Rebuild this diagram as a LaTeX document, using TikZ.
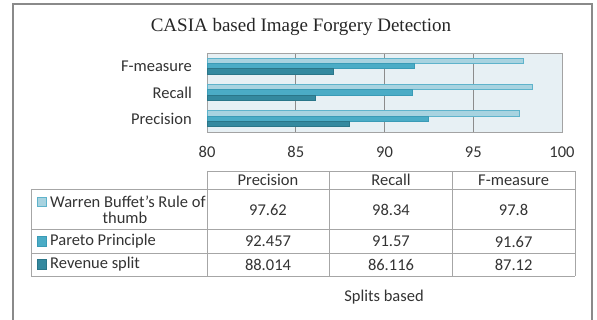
\documentclass[tikz,border=0pt]{standalone}
\usepackage{fontspec}
\setmainfont{Carlito}
\newfontfamily\titlefont{Liberation Serif}
\definecolor{lightbar}{HTML}{A8D3E0}
\definecolor{lightedge}{HTML}{5FB3CB}
\definecolor{midbar}{HTML}{4BACC6}
\definecolor{midedge}{HTML}{3A9BB6}
\definecolor{darkbar}{HTML}{34899F}
\definecolor{darkedge}{HTML}{2A7689}
\definecolor{plotbg}{HTML}{E7F0F4}
\definecolor{gridc}{HTML}{8C8C8C}
\definecolor{tablec}{HTML}{A6A6A6}
\definecolor{framec}{HTML}{8A8A8A}
\tikzset{
  lbl/.style={font=\fontsize{16.5}{18}\selectfont, inner sep=0pt, text=black!80},
  barL/.style={fill=lightbar, draw=lightedge, line width=0.6pt},
  barM/.style={fill=midbar, draw=midedge, line width=0.6pt},
  barD/.style={fill=darkbar, draw=darkedge, line width=0.6pt},
  tline/.style={draw=tablec, line width=0.8pt},
}
\begin{document}
\begin{tikzpicture}[x=1pt,y=-1pt]
\useasboundingbox (0,0) rectangle (597,320);
\clip (0,0) rectangle (597,320);
% outer frame
\draw[framec, line width=1.4pt] (13,4) rectangle (592,340);
% title
\node[font=\titlefont\fontsize{19}{21}\selectfont, inner sep=0pt, text=black!85] (title) at (301,27) {CASIA based Image Forgery Detection};
% plot area
\fill[plotbg] (207,53) rectangle (562,132);
\foreach \v in {85,90,95} {
  \draw[gridc, line width=0.7pt] ({207+(\v-80)*17.75},53) -- ({207+(\v-80)*17.75},132);
}
\draw[gridc!80, line width=0.7pt] (207,53) rectangle (562,132);
% F-measure
\draw[barL] (207,58.2) rectangle ({207+(97.8-80)*17.75},63.5);
\draw[barM] (207,63.5) rectangle ({207+(91.67-80)*17.75},68.8);
\draw[barD] (207,68.8) rectangle ({207+(87.12-80)*17.75},74.2);
% Recall
\draw[barL] (207,84.5) rectangle ({207+(98.34-80)*17.75},89.8);
\draw[barM] (207,89.8) rectangle ({207+(91.57-80)*17.75},95.1);
\draw[barD] (207,95.1) rectangle ({207+(86.116-80)*17.75},100.5);
% Precision
\draw[barL] (207,110.8) rectangle ({207+(97.62-80)*17.75},116.1);
\draw[barM] (207,116.1) rectangle ({207+(92.457-80)*17.75},121.4);
\draw[barD] (207,121.4) rectangle ({207+(88.014-80)*17.75},126.8);
% category labels
\node[lbl, anchor=east] (cF) at (192,66) {F-measure};
\node[lbl, anchor=east] (cR) at (192,93) {Recall};
\node[lbl, anchor=east] (cP) at (192,119) {Precision};
% axis numbers
\node[lbl] (a80) at (207,152) {80};
\node[lbl] (a85) at (295.75,152) {85};
\node[lbl] (a90) at (384.5,152) {90};
\node[lbl] (a95) at (473.25,152) {95};
\node[lbl] (a100) at (562,152) {100};
% table lines
\draw[tline] (207,171) -- (575,171);
\draw[tline] (31,189) -- (575,189);
\draw[tline] (31,229) -- (575,229);
\draw[tline] (31,253.5) -- (575,253.5);
\draw[tline] (31,276) -- (575,276);
\draw[tline] (31,189) -- (31,276);
\draw[tline] (207,171) -- (207,276);
\draw[tline] (329.3,171) -- (329.3,276);
\draw[tline] (452.3,171) -- (452.3,276);
\draw[tline] (575,171) -- (575,276);
% header
\node[lbl] (hP) at (268,180) {Precision};
\node[lbl] (hR) at (391,180) {Recall};
\node[lbl] (hF) at (513.6,180) {F-measure};
% legend keys
\draw[fill=lightbar, draw=lightedge, line width=0.6pt] (37,197) rectangle (46.5,206.5) coordinate (k1);
\draw[fill=midbar, draw=midedge, line width=0.6pt] (37,236.5) rectangle (46.5,246) coordinate (k2);
\draw[fill=darkbar, draw=darkedge, line width=0.6pt] (37,259.5) rectangle (46.5,269) coordinate (k3);
% row labels
\node[lbl, anchor=west] (r1a) at (50,201.5) {Warren Buffet’s Rule of};
\node[lbl] (r1b) at (125,217.5) {thumb};
\node[lbl, anchor=west] (r2) at (50,241.5) {Pareto Principle};
\node[lbl, anchor=west] (r3) at (50,264.5) {Revenue split};
% values
\node[lbl] (v11) at (268,209.5) {97.62};
\node[lbl] (v12) at (391,209.5) {98.34};
\node[lbl] (v13) at (513.6,209.5) {97.8};
\node[lbl] (v21) at (268,241.5) {92.457};
\node[lbl] (v22) at (391,241.5) {91.57};
\node[lbl] (v23) at (513.6,241.5) {91.67};
\node[lbl] (v31) at (268,264.5) {88.014};
\node[lbl] (v32) at (391,264.5) {86.116};
\node[lbl] (v33) at (513.6,264.5) {87.12};
% footer
\node[lbl] (foot) at (384,297) {Splits based};
\end{tikzpicture}
\end{document}
